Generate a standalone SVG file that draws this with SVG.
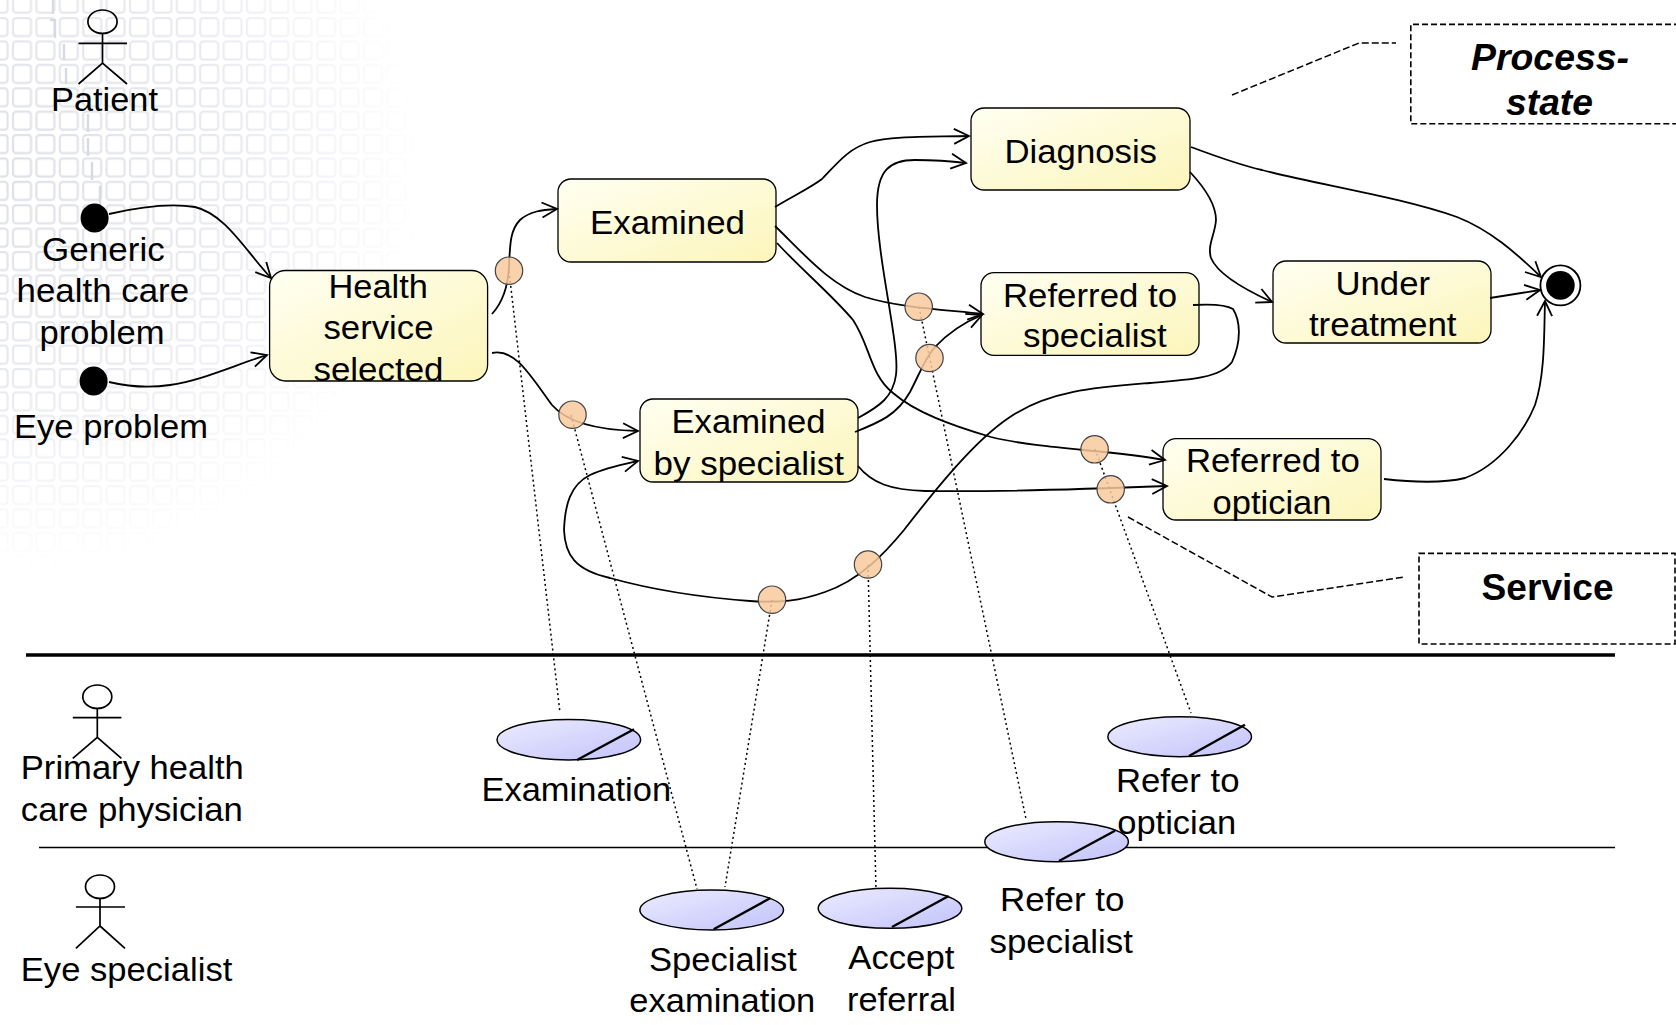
<svg xmlns="http://www.w3.org/2000/svg" width="1676" height="1025" viewBox="0 0 1676 1025">
<style>
text{font-family:"Liberation Sans",Arial,sans-serif;font-size:33px;fill:#000}
.b{font-weight:bold;font-size:36px}
.bi{font-weight:bold;font-style:italic;font-size:36px}
.state{fill:url(#sg);stroke:#000;stroke-width:1.3}
.use{fill:url(#ug);stroke:#000;stroke-width:1.5}
.slash{stroke:#000;stroke-width:2.4;fill:none}
.actor{fill:none;stroke:#000;stroke-width:1.7}
.c{fill:none;stroke:#000;stroke-width:1.8;marker-end:url(#a)}
.d{fill:none;stroke:#000;stroke-width:1.5;stroke-dasharray:2 3}
.l{fill:none;stroke:#000;stroke-width:1.5;stroke-dasharray:7 3}
.svc{fill:#f8c99c;fill-opacity:.85;stroke:#444;stroke-width:1.2}
.box{fill:none;stroke:#000;stroke-width:1.6;stroke-dasharray:6 3}
.dk{fill:none;stroke:#d8dae2;stroke-width:2.4}
</style>
<defs>
<linearGradient id="sg" x1="0" y1="0" x2="1" y2="1"><stop offset="0" stop-color="#fffff2"/><stop offset="1" stop-color="#fcf5ba"/></linearGradient>
<linearGradient id="ug" x1="0" y1="0" x2="1" y2="1"><stop offset="0" stop-color="#ececff"/><stop offset="1" stop-color="#c2c2fb"/></linearGradient>
<marker id="a" markerUnits="userSpaceOnUse" markerWidth="22" markerHeight="22" refX="17" refY="9" orient="auto" overflow="visible"><path d="M2 1.5L17 9L2 16.5" fill="none" stroke="#000" stroke-width="1.8"/></marker>
<pattern id="grid" x="11" y="16" width="23.4" height="23.4" patternUnits="userSpaceOnUse"><rect x="2" y="2" width="18" height="18" rx="3" fill="none" stroke="#d4d6e0" stroke-width="2.2"/></pattern>
<radialGradient id="fade" gradientUnits="userSpaceOnUse" cx="20" cy="170" r="400"><stop offset="0" stop-color="#fff" stop-opacity=".75"/><stop offset=".55" stop-color="#fff" stop-opacity=".5"/><stop offset="1" stop-color="#fff" stop-opacity="0"/></radialGradient>
<mask id="m"><rect width="460" height="620" fill="url(#fade)"/></mask>
<filter id="soft" x="-5%" y="-5%" width="110%" height="110%"><feGaussianBlur stdDeviation="0.6"/></filter>
</defs>
<rect width="1676" height="1025" fill="#fff"/>
<g id="background-grid" filter="url(#soft)">
<rect width="460" height="620" fill="url(#grid)" mask="url(#m)"/>
<path class="dk" d="M53 0V14M50 20H55V38M64 44V60M66 68V84M88 114V132M88 138V156M92 162V180M100 186V205"/>
</g>
<g id="swimlane-lines">
<line x1="26" y1="655" x2="1615" y2="655" stroke="#000" stroke-width="3.6"/>
<line x1="39" y1="847.5" x2="1615" y2="847.5" stroke="#000" stroke-width="1.6"/>
</g>
<g id="actor-patient">
<ellipse class="actor" cx="102.5" cy="21.7" rx="14.6" ry="11.7"/>
<path class="actor" d="M102.5 33.5V63M78.5 43.3H127M78.5 84L102.5 63L127 84"/>
<text x="51" y="110.5" textLength="107" lengthAdjust="spacingAndGlyphs">Patient</text>
</g>
<g id="start-generic">
<ellipse cx="94.6" cy="218" rx="14" ry="14.5" fill="#000"/>
<text x="42.1" y="260.5" textLength="122.6" lengthAdjust="spacingAndGlyphs">Generic</text>
<text x="16.5" y="301.5" textLength="172.6" lengthAdjust="spacingAndGlyphs">health care</text>
<text x="39.5" y="343.5" textLength="125" lengthAdjust="spacingAndGlyphs">problem</text>
</g>
<g id="start-eye">
<ellipse cx="93.6" cy="381" rx="14" ry="14.5" fill="#000"/>
<text x="14" y="437.5" textLength="194" lengthAdjust="spacingAndGlyphs">Eye problem</text>
</g>
<g id="state-health-service-selected">
<rect class="state" x="269.6" y="270.5" width="218" height="110.5" rx="16"/>
<text x="328.5" y="298" textLength="99.4" lengthAdjust="spacingAndGlyphs">Health</text>
<text x="323.5" y="339" textLength="110" lengthAdjust="spacingAndGlyphs">service</text>
<text x="313.5" y="380.5" textLength="130" lengthAdjust="spacingAndGlyphs">selected</text>
</g>
<g id="state-examined">
<rect class="state" x="558" y="179" width="218" height="83" rx="13"/>
<text x="590" y="233.5" textLength="155" lengthAdjust="spacingAndGlyphs">Examined</text>
</g>
<g id="state-examined-by-specialist">
<rect class="state" x="640" y="399" width="218" height="83" rx="13"/>
<text x="671.5" y="432.5" textLength="154" lengthAdjust="spacingAndGlyphs">Examined</text>
<text x="653.5" y="474.5" textLength="190.5" lengthAdjust="spacingAndGlyphs">by specialist</text>
</g>
<g id="state-diagnosis">
<rect class="state" x="971" y="108" width="219" height="82" rx="13"/>
<text x="1004.5" y="162.5" textLength="152.5" lengthAdjust="spacingAndGlyphs">Diagnosis</text>
</g>
<g id="state-referred-to-specialist">
<rect class="state" x="981" y="272.7" width="218" height="82.6" rx="13"/>
<text x="1003" y="306.5" textLength="174" lengthAdjust="spacingAndGlyphs">Referred to</text>
<text x="1023" y="347.2" textLength="143.6" lengthAdjust="spacingAndGlyphs">specialist</text>
</g>
<g id="state-under-treatment">
<rect class="state" x="1273" y="261" width="218" height="82" rx="13"/>
<text x="1335.5" y="294.5" textLength="94.5" lengthAdjust="spacingAndGlyphs">Under</text>
<text x="1308.9" y="335.9" textLength="147.7" lengthAdjust="spacingAndGlyphs">treatment</text>
</g>
<g id="state-referred-to-optician">
<rect class="state" x="1163" y="438.6" width="218" height="81.4" rx="13"/>
<text x="1185.9" y="471.5" textLength="174" lengthAdjust="spacingAndGlyphs">Referred to</text>
<text x="1212.5" y="513.5" textLength="119" lengthAdjust="spacingAndGlyphs">optician</text>
</g>
<g id="end-state">
<circle cx="1560.4" cy="285.4" r="20" fill="#fff" stroke="#000" stroke-width="1.8"/>
<circle cx="1560.4" cy="285.4" r="14.3" fill="#000"/>
</g>
<g id="legend-process-state">
<path class="box" d="M1680 24.4H1410.8V123.7H1680"/>
<text class="bi" x="1471" y="69.9" textLength="158" lengthAdjust="spacingAndGlyphs">Process-</text>
<text class="bi" x="1506" y="115" textLength="87" lengthAdjust="spacingAndGlyphs">state</text>
</g>
<g id="legend-service">
<rect class="box" x="1419" y="553.4" width="256" height="90.6"/>
<text class="b" x="1481.6" y="599.5" textLength="132" lengthAdjust="spacingAndGlyphs">Service</text>
</g>
<g id="actor-primary-health-care-physician">
<ellipse class="actor" cx="97.3" cy="696.7" rx="14.5" ry="11.7"/>
<path class="actor" d="M97.3 708.4V737.3M72.8 717.7H121.4M72.8 758.3L97.3 737.3L121.4 758.3"/>
<text x="20.8" y="779" textLength="223" lengthAdjust="spacingAndGlyphs">Primary health</text>
<text x="20.8" y="820.5" textLength="222" lengthAdjust="spacingAndGlyphs">care physician</text>
</g>
<g id="actor-eye-specialist">
<ellipse class="actor" cx="100" cy="886.7" rx="14.5" ry="11.7"/>
<path class="actor" d="M100 898.4V926M75.9 907H125M75.9 948.3L100 926L125 948.3"/>
<text x="20.8" y="981.2" textLength="211.5" lengthAdjust="spacingAndGlyphs">Eye specialist</text>
</g>
<g id="connectors">
<path class="c" d="M109 214C135 208 170 203 195 207C225 214 245 250 271 278"/>
<path class="c" d="M109 382C130 387 150 388 170 385C200 381 235 365 267 355"/>
<path class="c" d="M492 314C503 302 508 285 509 267C510 245 510 230 520 220C530 211 542 210 557 209"/>
<path class="c" d="M492 353C515 348 530 375 552 405C565 420 590 430 638 431"/>
<path class="c" d="M775 207C795 195 810 188 822 179C840 160 850 148 870 142C890 136 930 137 969 136"/>
<path class="c" d="M858 418C880 406 893 397 896 375C900 345 877 260 877 205C877 170 890 160 915 160C935 160 950 161 966 163"/>
<path class="c" d="M775 226C805 255 830 285 865 297C900 308 950 310 983 314"/>
<path class="c" d="M777 243C800 268 835 298 853 320C870 345 870 375 893 393C915 412 950 425 991 437C1040 449 1110 450 1165 460"/>
<path class="c" d="M855 432C880 422 897 415 910 392C920 373 925 358 935 347C950 331 965 322 982 315"/>
<path class="c" d="M858 466C872 483 890 490 925 491C990 492 1090 489 1167 486"/>
<path class="c" d="M1193 305C1210 304 1225 304 1233 309C1240 320 1242 340 1232 362C1220 378 1190 380 1150 383C1100 387 1050 390 1010 417C975 440 935 490 904 530C885 553 860 580 825 592C800 601 780 603 750 601C710 598 660 592 610 578C575 570 565 555 564 530C565 505 570 485 590 475C605 468 620 465 638 461"/>
<path class="c" d="M1191 147C1215 156 1240 165 1262 170C1320 185 1400 197 1457 217C1490 230 1515 252 1541 277"/>
<path class="c" d="M1190 172C1205 188 1216 205 1216 220C1215 235 1207 245 1211 258C1218 275 1250 292 1272 302"/>
<path class="c" d="M1490 298L1540 290"/>
<path class="c" d="M1384 479C1410 482 1440 484 1465 478C1500 465 1525 430 1535 405C1545 375 1544 335 1545 301"/>
<path class="d" d="M509 271L560 713"/>
<path class="d" d="M571 415L697 889"/>
<path class="d" d="M772 600L725 887"/>
<path class="d" d="M868 565L876 890"/>
<path class="d" d="M919 307L1026 819"/>
<path class="d" d="M1095 449L1191 713"/>
<path class="l" d="M1232 95L1359 43L1396 43"/>
<path class="l" d="M1128 517L1272 597L1404 577"/>
</g>
<g id="service-points">
<circle class="svc" cx="509" cy="270.7" r="13.7"/>
<circle class="svc" cx="572.5" cy="414.7" r="13.7"/>
<circle class="svc" cx="918.7" cy="306.7" r="13.7"/>
<circle class="svc" cx="929.5" cy="358" r="13.7"/>
<circle class="svc" cx="1094.6" cy="449.3" r="13.7"/>
<circle class="svc" cx="1110.7" cy="489.3" r="13.7"/>
<circle class="svc" cx="772" cy="599.7" r="13.7"/>
<circle class="svc" cx="868" cy="564.5" r="13.7"/>
</g>
<g id="activity-examination">
<ellipse class="use" cx="568.8" cy="739.7" rx="71.8" ry="20.3"/>
<path class="slash" d="M577 760L634 729.3"/>
<text x="481.5" y="800.5" textLength="189.6" lengthAdjust="spacingAndGlyphs">Examination</text>
</g>
<g id="activity-specialist-examination">
<ellipse class="use" cx="711.7" cy="910" rx="71.8" ry="20"/>
<path class="slash" d="M713.7 929.3L770.5 898"/>
<text x="648.9" y="970.5" textLength="148" lengthAdjust="spacingAndGlyphs">Specialist</text>
<text x="629.3" y="1012.2" textLength="186" lengthAdjust="spacingAndGlyphs">examination</text>
</g>
<g id="activity-accept-referral">
<ellipse class="use" cx="890" cy="908.3" rx="71.8" ry="20"/>
<path class="slash" d="M892 927L948.7 896"/>
<text x="848.3" y="968.5" textLength="106" lengthAdjust="spacingAndGlyphs">Accept</text>
<text x="847" y="1010.5" textLength="109" lengthAdjust="spacingAndGlyphs">referral</text>
</g>
<g id="activity-refer-to-specialist">
<ellipse class="use" cx="1056.6" cy="841.7" rx="71.8" ry="20"/>
<path class="slash" d="M1059 861L1115 830.7"/>
<text x="1000.1" y="910.5" textLength="124.4" lengthAdjust="spacingAndGlyphs">Refer to</text>
<text x="989.5" y="952.5" textLength="143.5" lengthAdjust="spacingAndGlyphs">specialist</text>
</g>
<g id="activity-refer-to-optician">
<ellipse class="use" cx="1179.7" cy="736.7" rx="71.8" ry="20"/>
<path class="slash" d="M1189 756L1245 724.7"/>
<text x="1115.9" y="792.2" textLength="123.6" lengthAdjust="spacingAndGlyphs">Refer to</text>
<text x="1117.2" y="833.5" textLength="119" lengthAdjust="spacingAndGlyphs">optician</text>
</g>
</svg>
